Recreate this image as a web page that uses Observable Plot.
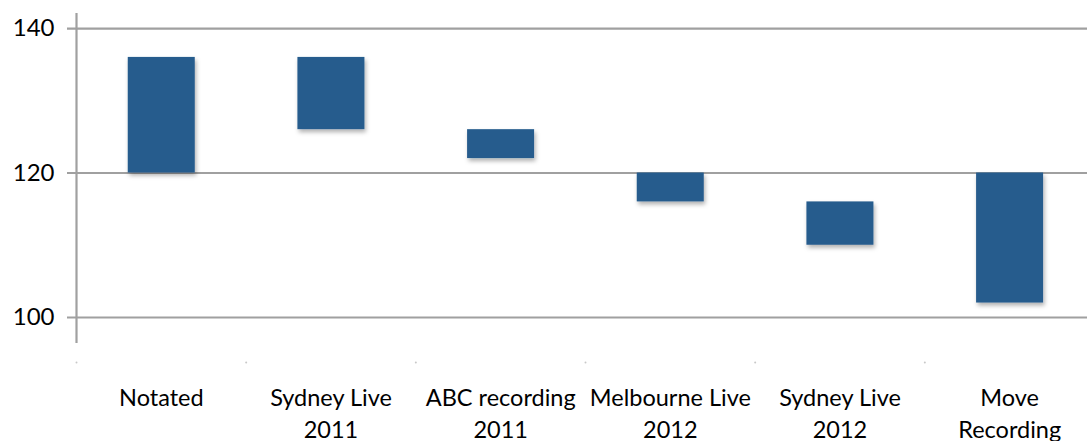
<!DOCTYPE html>
<html>
<head>
<meta charset="utf-8">
<script src="https://cdn.jsdelivr.net/npm/d3@7"></script>
<script src="https://cdn.jsdelivr.net/npm/@observablehq/plot@0.6"></script>
<style>
  html, body { margin: 0; padding: 0; background: #fff; }
  #chart svg { display: block; }
</style>
</head>
<body>
<div id="chart"></div>
<script>
const categories = ["Notated", "Sydney Live\n2011", "ABC recording\n2011", "Melbourne Live\n2012", "Sydney Live\n2012", "Move\nRecording"];
const lowValues  = [120, 126, 122, 116, 110, 102];
const highValues = [136, 136, 126, 120, 116, 120];
const yTicks = [100, 120, 140];

const data = categories.map((c, i) => ({i, label: c, low: lowValues[i], high: highValues[i]}));
const idx = categories.map((_, i) => i);

const barColor = "#285c8d";
const gridColor = "#a0a0a0";

const chart = Plot.plot({
  width: 1087,
  height: 441,
  marginLeft: 67,
  marginRight: 0,
  marginTop: 13,
  marginBottom: 98,
  style: {fontFamily: "Lato, 'Open Sans', sans-serif", background: "#fff"},
  x: {domain: [0, 6], range: [76, 1094], axis: null},
  y: {domain: [96.4, 142.08], axis: null},
  marks: [
    Plot.ruleY(yTicks, {stroke: gridColor, strokeWidth: 2.2}),
    Plot.ruleX([0], {stroke: gridColor, strokeWidth: 2.2}),
    Plot.text(yTicks, {y: d => d, frameAnchor: "left", textAnchor: "end", dx: -13, text: d => String(d), fontSize: 24, fill: "#000"}),
    Plot.rectY(data, {x1: d => d.i + 0.305, x2: d => d.i + 0.70, y1: "low", y2: "high", fill: barColor, className: "bars"}),
    Plot.dot(idx, {x: d => d, frameAnchor: "bottom", dy: 19, r: 1, fill: "#c8c8c8", stroke: "none"}),
    Plot.text(data, {x: d => d.i + 0.5, text: "label", frameAnchor: "bottom", lineAnchor: "top", dy: 40, fontSize: 23.5, lineHeight: 1.36, fill: "#000"})
  ]
});

// subtle drop shadow on bars
const svg = d3.select(chart);
const defs = svg.insert("defs", ":first-child");
const f = defs.append("filter").attr("id", "barShadow").attr("x", "-20%").attr("y", "-20%").attr("width", "150%").attr("height", "150%");
f.append("feDropShadow").attr("dx", 1.5).attr("dy", 3).attr("stdDeviation", 2).attr("flood-color", "#000").attr("flood-opacity", 0.3);
svg.selectAll("g.bars rect, g[aria-label='rect'] rect").attr("filter", "url(#barShadow)");

document.getElementById("chart").append(chart);
</script>
</body>
</html>
